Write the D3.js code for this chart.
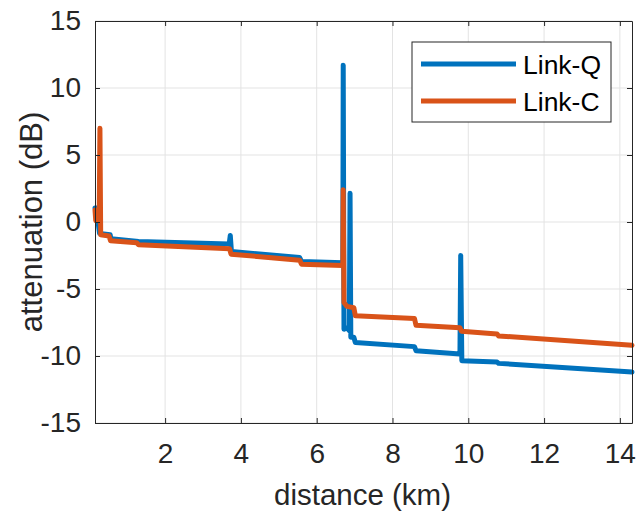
<!DOCTYPE html>
<html>
<head>
<meta charset="utf-8">
<script src="https://cdn.jsdelivr.net/npm/d3@7"></script>
<style>
  body { margin: 0; background: #fff; }
  svg { display: block; font-family: "Liberation Sans", Arial, sans-serif; }
</style>
</head>
<body>
<div id="chart"></div>
<script>
const WIDTH = 636;
const HEIGHT = 512;
const MARGIN = { TOP: 21, BOTTOM: 89, LEFT: 95, RIGHT: 4 };

// Link-Q trace (km, dB)
const distQ = [0.15, 0.22, 0.23, 0.27, 0.55, 0.57, 1.30, 3.69, 3.72, 3.75, 5.55, 5.60, 6.69, 6.70, 6.72, 6.80, 6.86, 6.88, 6.90, 6.98, 7.02, 8.58, 8.62, 9.78, 9.80, 9.83, 10.76, 10.80, 14.32];
const attQ  = [1.05, 1.05, 0.0, -0.85, -0.95, -1.25, -1.45, -1.65, -1.0, -2.2, -2.65, -2.95, -3.05, 11.7, -8.0, -7.9, -8.1, 2.15, -8.6, -8.6, -9.0, -9.3, -9.6, -9.85, -2.5, -10.35, -10.45, -10.55, -11.2];

// Link-C trace (km, dB)
const distC = [0.15, 0.17, 0.20, 0.23, 0.26, 0.28, 0.30, 0.52, 0.56, 1.25, 1.30, 3.70, 3.74, 5.55, 5.60, 6.69, 6.70, 6.72, 6.80, 6.98, 7.02, 8.58, 8.62, 9.78, 9.82, 10.76, 10.80, 14.32];
const attC  = [0.9, 0.1, 0.9, 0.1, 0.1, 7.0, -0.95, -1.05, -1.4, -1.55, -1.7, -2.0, -2.4, -2.85, -3.15, -3.25, 2.4, -6.0, -6.3, -6.4, -7.0, -7.2, -7.7, -7.9, -8.15, -8.35, -8.5, -9.2];

const xTicks = [2, 4, 6, 8, 10, 12, 14];
const yTicks = [-15, -10, -5, 0, 5, 10, 15];
const seriesNames = ['Link-Q', 'Link-C'];
const seriesColors = ['#0072BD', '#D95319'];

const w = WIDTH - MARGIN.LEFT - MARGIN.RIGHT;
const h = HEIGHT - MARGIN.TOP - MARGIN.BOTTOM;

const svg = d3.select('#chart').append('svg')
  .attr('width', WIDTH)
  .attr('height', HEIGHT);

const g = svg.append('g')
  .attr('transform', `translate(${MARGIN.LEFT}, ${MARGIN.TOP})`);

const xscale = d3.scaleLinear().domain([0.15, 14.32]).range([0, w]);
const yscale = d3.scaleLinear().domain([-15, 15]).range([h, 0]);

// grid
g.append('g').selectAll('line')
  .data(xTicks).enter().append('line')
  .attr('x1', d => xscale(d)).attr('x2', d => xscale(d))
  .attr('y1', 0).attr('y2', h)
  .attr('stroke', '#e3e3e3').attr('stroke-width', 1);

g.append('g').selectAll('line')
  .data(yTicks).enter().append('line')
  .attr('x1', 0).attr('x2', w)
  .attr('y1', d => yscale(d)).attr('y2', d => yscale(d))
  .attr('stroke', '#e3e3e3').attr('stroke-width', 1);

// traces
const line = d3.line().x(d => xscale(d[0])).y(d => yscale(d[1]));
const traces = [d3.zip(distQ, attQ), d3.zip(distC, attC)];

traces.forEach((t, i) => {
  g.append('path')
    .datum(t)
    .attr('d', line)
    .attr('fill', 'none')
    .attr('stroke', seriesColors[i])
    .attr('stroke-width', 5)
    .attr('stroke-linejoin', 'round')
    .attr('stroke-linecap', 'round');
});

// axes (box with inward ticks)
const axisColor = '#262626';
g.append('g')
  .attr('transform', `translate(0, ${h})`)
  .call(d3.axisBottom(xscale).tickValues(xTicks).tickSizeInner(-5).tickSizeOuter(0).tickPadding(20));
g.append('g')
  .call(d3.axisLeft(yscale).tickValues(yTicks).tickSizeInner(-5).tickSizeOuter(0).tickPadding(14)
    .tickFormat(d => d3.format('d')(d).replace('−', '-')));

g.append('g')
  .attr('transform', `translate(${w}, 0)`)
  .call(d3.axisRight(yscale).tickValues(yTicks).tickSizeInner(-5).tickSizeOuter(0).tickFormat(''));
g.append('g')
  .call(d3.axisTop(xscale).tickValues(xTicks).tickSizeInner(-5).tickSizeOuter(0).tickFormat(''));

g.selectAll('.domain, .tick line').attr('stroke', axisColor).attr('stroke-width', 1);
g.selectAll('.tick text')
  .attr('fill', axisColor)
  .style('font-size', '28px');

// axis labels
svg.append('text')
  .attr('x', MARGIN.LEFT + w / 2 - 1)
  .attr('y', 505)
  .style('text-anchor', 'middle')
  .style('font-size', '29.5px')
  .attr('fill', axisColor)
  .text('distance (km)');

svg.append('text')
  .attr('transform', `translate(42, ${MARGIN.TOP + h / 2}) rotate(-90)`)
  .style('text-anchor', 'middle')
  .style('font-size', '31px')
  .attr('fill', axisColor)
  .text('attenuation (dB)');

// legend
const legend = svg.append('g').attr('transform', 'translate(412, 42)');
legend.append('rect')
  .attr('width', 199).attr('height', 80)
  .attr('fill', '#fff').attr('stroke', axisColor).attr('stroke-width', 1);

legend.selectAll('line.leg')
  .data(seriesNames).enter().append('line')
  .attr('class', 'leg')
  .attr('x1', 9).attr('x2', 104)
  .attr('y1', (d, i) => 22 + i * 37).attr('y2', (d, i) => 22 + i * 37)
  .attr('stroke', (d, i) => seriesColors[i])
  .attr('stroke-width', 5);

legend.selectAll('text')
  .data(seriesNames).enter().append('text')
  .attr('x', 111)
  .attr('y', (d, i) => 32 + i * 37)
  .style('font-size', '26.5px')
  .attr('fill', '#000')
  .text(d => d);
</script>
</body>
</html>
